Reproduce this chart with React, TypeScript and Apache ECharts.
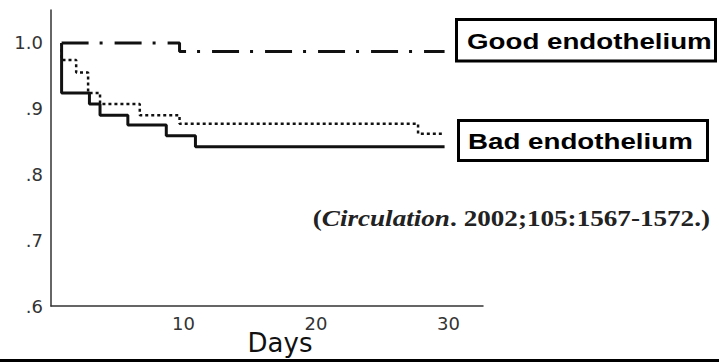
import React, { useEffect, useRef } from "react";
import * as echarts from "echarts";

// Kaplan-Meier style step data: [day, cumulative event-free survival]
const goodEndothelium: [number, number][] = [
  [0.8, 1.0],
  [9.7, 0.987],
  [29.7, 0.987],
];
const badEndotheliumSolid: [number, number][] = [
  [0.8, 1.0],
  [0.8, 0.924],
  [2.9, 0.907],
  [3.7, 0.89],
  [5.8, 0.875],
  [8.7, 0.859],
  [10.9, 0.842],
  [29.7, 0.842],
];
const badEndotheliumDotted: [number, number][] = [
  [0.8, 1.0],
  [0.8, 0.974],
  [1.9, 0.955],
  [2.8, 0.924],
  [3.7, 0.907],
  [6.7, 0.89],
  [9.7, 0.877],
  [27.7, 0.862],
  [29.6, 0.862],
];
const xTickValues = [0, 10, 20, 30];
const yTickValues = [0.6, 0.7, 0.8, 0.9, 1.0];
const xAxisTitle = "Days";
const goodLabel = "Good endothelium";
const badLabel = "Bad endothelium";
const citationJournal = "Circulation";
const citationRest = ". 2002;105:1567-1572.)";

const SERIF = "'Liberation Serif', 'Times New Roman', serif";
const SANS = "'Liberation Sans', Arial, sans-serif";
const WIDE_SANS = "'DejaVu Sans', Verdana, sans-serif";

export default function App() {
  const ref = useRef<HTMLDivElement>(null);
  useEffect(() => {
    if (!ref.current) return;
    const chart = echarts.init(ref.current, undefined, { renderer: "svg" });
    const lineColor = "#111";
    chart.setOption({
      animation: false,
      backgroundColor: "#fff",
      grid: {
        left: 51,
        right: 236,
        top: 10,
        bottom: 56,
        containLabel: false,
        outerBoundsMode: "none",
      },
      xAxis: {
        type: "value",
        min: xTickValues[0],
        max: 32.6,
        interval: xTickValues[1] - xTickValues[0],
        axisLine: { show: true, lineStyle: { color: "#333", width: 1.5 } },
        axisTick: { show: false },
        splitLine: { show: false },
        axisLabel: {
          showMinLabel: false,
          showMaxLabel: false,
          fontFamily: WIDE_SANS,
          fontSize: 18,
          color: "#333",
          margin: 8,
        },
      },
      yAxis: {
        type: "value",
        min: yTickValues[0],
        max: 1.05,
        interval: 0.1,
        axisLine: { show: true, lineStyle: { color: "#333", width: 1.5 } },
        axisTick: { show: false },
        splitLine: { show: false },
        axisLabel: {
          showMaxLabel: false,
          fontFamily: WIDE_SANS,
          fontSize: 18,
          color: "#333",
          margin: 8,
          formatter: (v: number) => {
            const r = Math.round(v * 10);
            return r === 10 ? "1.0" : "." + r;
          },
        },
      },
      series: [
        {
          type: "line",
          name: goodLabel,
          step: "end",
          data: goodEndothelium,
          symbol: "none",
          lineStyle: { color: lineColor, width: 3, type: [27, 11, 3, 12] },
        },
        {
          type: "line",
          name: badLabel + " (dotted)",
          step: "end",
          data: badEndotheliumDotted,
          symbol: "none",
          lineStyle: { color: lineColor, width: 2.5, type: [3, 3] },
        },
        {
          type: "line",
          name: badLabel,
          step: "end",
          data: badEndotheliumSolid,
          symbol: "none",
          lineStyle: { color: lineColor, width: 3, type: "solid" },
        },
      ],
      graphic: [
        {
          type: "text",
          x: 280,
          y: 343,
          z: 51,
          style: {
            text: xAxisTitle,
            fontFamily: WIDE_SANS,
            fontSize: 26,
            fill: "#111",
            align: "center",
            verticalAlign: "middle",
          },
        },
        {
          type: "rect",
          shape: { x: 456.5, y: 19.5, width: 259, height: 41.5 },
          style: { fill: "#fff", stroke: "#000", lineWidth: 3 },
          z: 50,
        },
        {
          type: "text",
          x: 467,
          y: 41,
          scaleX: 1.26,
          z: 51,
          style: {
            text: goodLabel,
            fontFamily: SANS,
            fontWeight: "bold",
            fontSize: 22,
            fill: "#000",
            align: "left",
            verticalAlign: "middle",
          },
        },
        {
          type: "rect",
          shape: { x: 458.5, y: 120.5, width: 249, height: 40 },
          style: { fill: "#fff", stroke: "#000", lineWidth: 3 },
          z: 50,
        },
        {
          type: "text",
          x: 468,
          y: 141,
          scaleX: 1.26,
          z: 51,
          style: {
            text: badLabel,
            fontFamily: SANS,
            fontWeight: "bold",
            fontSize: 22,
            fill: "#000",
            align: "left",
            verticalAlign: "middle",
          },
        },
        {
          type: "text",
          x: 710,
          y: 218,
          scaleX: 1.18,
          z: 51,
          style: {
            text: "{n|(}{i|" + citationJournal + "}{n|" + citationRest + "}",
            align: "right",
            verticalAlign: "middle",
            fill: "#222",
            fontFamily: SERIF,
            fontWeight: "bold",
            fontSize: 23,
            rich: {
              n: {
                fontFamily: SERIF,
                fontWeight: "bold",
                fontSize: 23,
                fill: "#222",
              },
              i: {
                fontFamily: SERIF,
                fontWeight: "bold",
                fontStyle: "italic",
                fontSize: 23,
                fill: "#222",
              },
            },
          },
        },
        {
          type: "rect",
          shape: { x: 0, y: 359, width: 719, height: 3 },
          style: { fill: "#000" },
          z: 100,
        },
      ],
    });
    return () => chart.dispose();
  }, []);
  return (
    <div
      ref={ref}
      style={{ position: "fixed", left: 0, top: 0, width: 719, height: 362 }}
    />
  );
}
